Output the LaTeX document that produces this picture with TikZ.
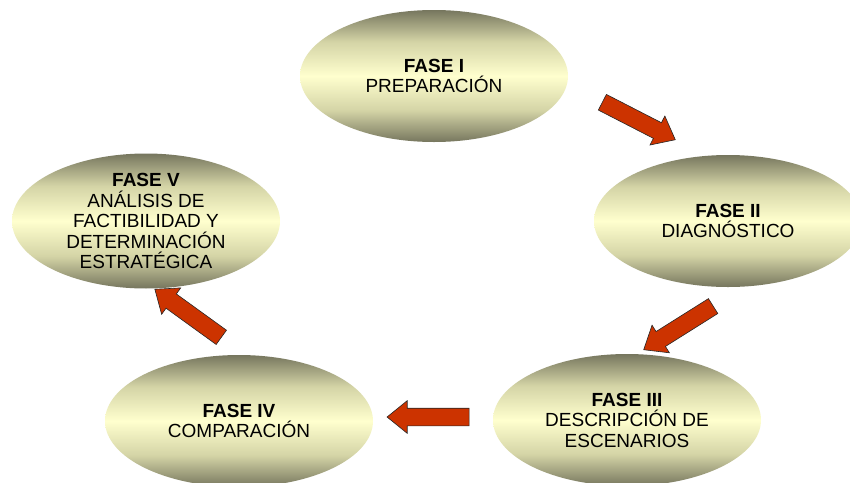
\documentclass[tikz,border=0pt]{standalone}
\usepackage{fontspec}
\setmainfont{Liberation Sans}
\usetikzlibrary{shapes.geometric,shapes.arrows}
\definecolor{olivo}{RGB}{118,118,94}
\definecolor{olivoclaro}{RGB}{212,212,166}
\definecolor{crema}{RGB}{255,255,206}
\definecolor{ladrillo}{RGB}{204,51,0}
\pgfdeclareverticalshading{fondofase}{100bp}{color(0bp)=(olivo); color(25bp)=(olivo);
  color(37bp)=(olivoclaro); color(50bp)=(crema); color(63bp)=(olivoclaro);
  color(75bp)=(olivo); color(100bp)=(olivo)}
\tikzset{
  fase/.style={ellipse, minimum width=268pt, minimum height=132pt, inner sep=0pt,
    shading=fondofase, align=center, font=\fontsize{19}{20.5}\selectfont},
  flecha/.style={single arrow, draw=black!85, line width=0.6pt, fill=ladrillo,
    inner xsep=0pt, inner ysep=8.5pt, minimum height=82pt, minimum width=32pt,
    single arrow head extend=7.5pt, single arrow tip angle=78,
    sloped, allow upside down}
}
\begin{document}
\begin{tikzpicture}[x=1pt, y=-1pt]
            \useasboundingbox (0,0) rectangle (850,482);
            \clip (0,0) rectangle (850,482);

            \node[fase] (f1) at (434, 76) {\textbf{FASE I}\\PREPARACIÓN};
            \node[fase] (f2) at (728, 221) {\textbf{FASE II}\\DIAGNÓSTICO};
            \node[fase] (f3) at (627, 420) {\textbf{FASE III}\\DESCRIPCIÓN DE\\ESCENARIOS};
            \node[fase] (f4) at (239, 421) {\textbf{FASE IV}\\COMPARACIÓN};
            \node[fase] (f5) at (146, 221) {\textbf{FASE V}\\ANÁLISIS DE\\FACTIBILIDAD Y\\DETERMINACIÓN\\ESTRATÉGICA};

            \coordinate (c1) at (598, 100); \coordinate (p1) at (670, 137);
            \coordinate (c2) at (718, 303); \coordinate (p2) at (648, 347);
            \coordinate (c3) at (474, 417); \coordinate (p3) at (393, 417);
            \coordinate (c4) at (225, 340); \coordinate (p4) at (160, 293);

            \path (c1) -- node[flecha] (a1) {} (p1);
            \path (c2) -- node[flecha] (a2) {} (p2);
            \path (c3) -- node[flecha] (a3) {} (p3);
            \path (c4) -- node[flecha] (a4) {} (p4);
        \end{tikzpicture}
\end{document}
